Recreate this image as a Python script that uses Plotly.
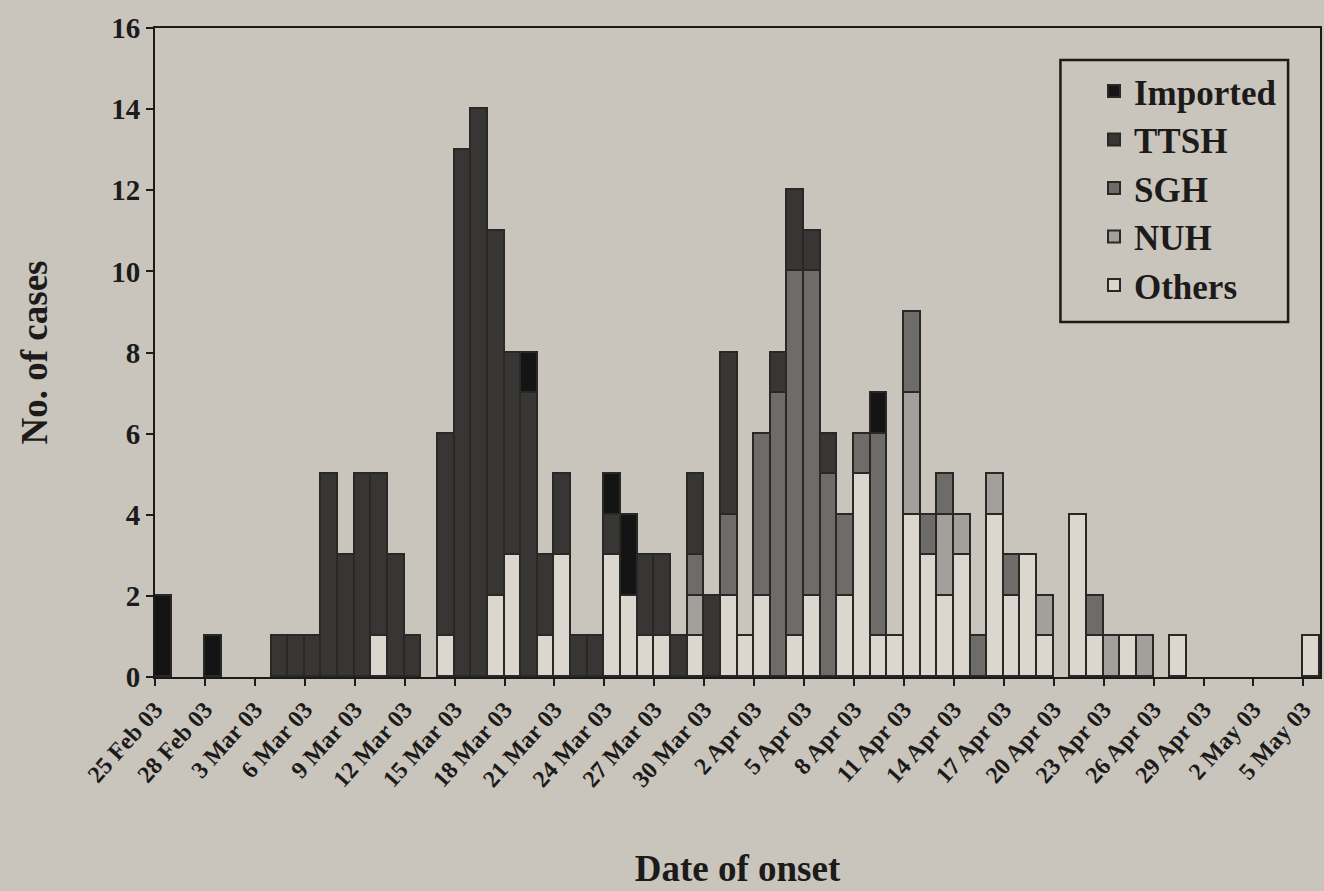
import plotly.graph_objects as go

# day offsets from 25 Feb 2003 (0..69)
days = list(range(70))

tick_days = list(range(0, 70, 3))
tick_labels = ["25 Feb 03", "28 Feb 03", "3 Mar 03", "6 Mar 03", "9 Mar 03", "12 Mar 03",
               "15 Mar 03", "18 Mar 03", "21 Mar 03", "24 Mar 03", "27 Mar 03", "30 Mar 03",
               "2 Apr 03", "5 Apr 03", "8 Apr 03", "11 Apr 03", "14 Apr 03", "17 Apr 03",
               "20 Apr 03", "23 Apr 03", "26 Apr 03", "29 Apr 03", "2 May 03", "5 May 03"]

imported = [2, 0, 0, 1, 0, 0, 0, 0, 0, 0,
            0, 0, 0, 0, 0, 0, 0, 0, 0, 0,
            0, 0, 1, 0, 0, 0, 0, 1, 2, 0,
            0, 0, 0, 0, 0, 0, 0, 0, 0, 0,
            0, 0, 0, 1, 0, 0, 0, 0, 0, 0,
            0, 0, 0, 0, 0, 0, 0, 0, 0, 0,
            0, 0, 0, 0, 0, 0, 0, 0, 0, 0]
ttsh = [0, 0, 0, 0, 0, 0, 0, 1, 1, 1,
        5, 3, 5, 4, 3, 1, 0, 5, 13, 14,
        9, 5, 7, 2, 2, 1, 1, 1, 0, 2,
        2, 1, 2, 2, 4, 0, 0, 1, 2, 1,
        1, 0, 0, 0, 0, 0, 0, 0, 0, 0,
        0, 0, 0, 0, 0, 0, 0, 0, 0, 0,
        0, 0, 0, 0, 0, 0, 0, 0, 0, 0]
sgh = [0, 0, 0, 0, 0, 0, 0, 0, 0, 0,
       0, 0, 0, 0, 0, 0, 0, 0, 0, 0,
       0, 0, 0, 0, 0, 0, 0, 0, 0, 0,
       0, 0, 1, 0, 2, 0, 4, 7, 9, 8,
       5, 2, 1, 5, 0, 2, 1, 1, 0, 1,
       0, 1, 0, 0, 0, 0, 1, 0, 0, 0,
       0, 0, 0, 0, 0, 0, 0, 0, 0, 0]
nuh = [0, 0, 0, 0, 0, 0, 0, 0, 0, 0,
       0, 0, 0, 0, 0, 0, 0, 0, 0, 0,
       0, 0, 0, 0, 0, 0, 0, 0, 0, 0,
       0, 0, 1, 0, 0, 0, 0, 0, 0, 0,
       0, 0, 0, 0, 0, 3, 0, 2, 1, 0,
       1, 0, 0, 1, 0, 0, 0, 1, 0, 1,
       0, 0, 0, 0, 0, 0, 0, 0, 0, 0]
others = [0, 0, 0, 0, 0, 0, 0, 0, 0, 0,
          0, 0, 0, 1, 0, 0, 0, 1, 0, 0,
          2, 3, 0, 1, 3, 0, 0, 3, 2, 1,
          1, 0, 1, 0, 2, 1, 2, 0, 1, 2,
          0, 2, 5, 1, 1, 4, 3, 2, 3, 0,
          4, 2, 3, 1, 0, 4, 1, 0, 1, 0,
          0, 1, 0, 0, 0, 0, 0, 0, 0, 1]

series = [("Others", others, "#dbd7ce"),
          ("NUH", nuh, "#a3a09b"),
          ("SGH", sgh, "#6e6c69"),
          ("TTSH", ttsh, "#383634"),
          ("Imported", imported, "#141414")]

serif = "Liberation Serif"
ink = "#1c1b1a"
paper = "#c9c5bd"

fig = go.Figure()
xs = [d + 0.5 for d in days]
for name, vals, color in series:
    fig.add_trace(go.Bar(
        x=xs, y=[v if v else None for v in vals], name=name, width=1,
        marker=dict(color=color, line=dict(color="#2a2826", width=1.6)),
    ))

fig.update_layout(
    barmode="stack", bargap=0,
    width=1324, height=891,
    paper_bgcolor=paper, plot_bgcolor=paper,
    margin=dict(l=155, r=2, t=28, b=214),
    font=dict(family=serif, color=ink, size=26),
    showlegend=True,
    legend=dict(x=0.806, y=0.948, xanchor="left", yanchor="top",
                traceorder="reversed", bgcolor="rgba(0,0,0,0)", borderwidth=0,
                font=dict(family=serif, size=35, color=ink, weight="bold"),
                itemsizing="constant"),
    shapes=[dict(type="rect", xref="paper", yref="paper",
                 x0=0.7772, x1=0.9726, y0=0.547, y1=0.9507,
                 line=dict(color=ink, width=2.5), fillcolor="rgba(0,0,0,0)")],
)
fig.update_xaxes(
    range=[0, 70], tickmode="array", tickvals=tick_days, ticktext=tick_labels,
    tickangle=-48, ticks="outside", ticklen=7, tickcolor=ink, tickwidth=2,
    tickfont=dict(family=serif, size=24, color=ink, weight="bold"),
    showline=True, linecolor=ink, linewidth=2, mirror=True, showgrid=False, zeroline=False,
    title=dict(text="Date of onset", font=dict(family=serif, size=37, color=ink, weight="bold"),
               standoff=64),
)
fig.update_yaxes(
    range=[0, 16], tickmode="array", tickvals=list(range(0, 17, 2)),
    ticks="outside", ticklen=7, tickcolor=ink, tickwidth=2,
    tickfont=dict(family=serif, size=29, color=ink, weight="bold"),
    showline=True, linecolor=ink, linewidth=2, mirror=True, showgrid=False, zeroline=False,
    title=dict(text="No. of cases", font=dict(family=serif, size=37, color=ink, weight="bold"),
               standoff=52),
)

fig.write_html("out.html", config={"displayModeBar": False})

# remove the default page margin so the figure fills the window exactly
with open("out.html", "r", encoding="utf-8") as f:
    html = f.read()
html = html.replace("<head>", "<head><style>html,body{margin:0;padding:0;overflow:hidden;background:%s}</style>" % paper, 1)
with open("out.html", "w", encoding="utf-8") as f:
    f.write(html)
